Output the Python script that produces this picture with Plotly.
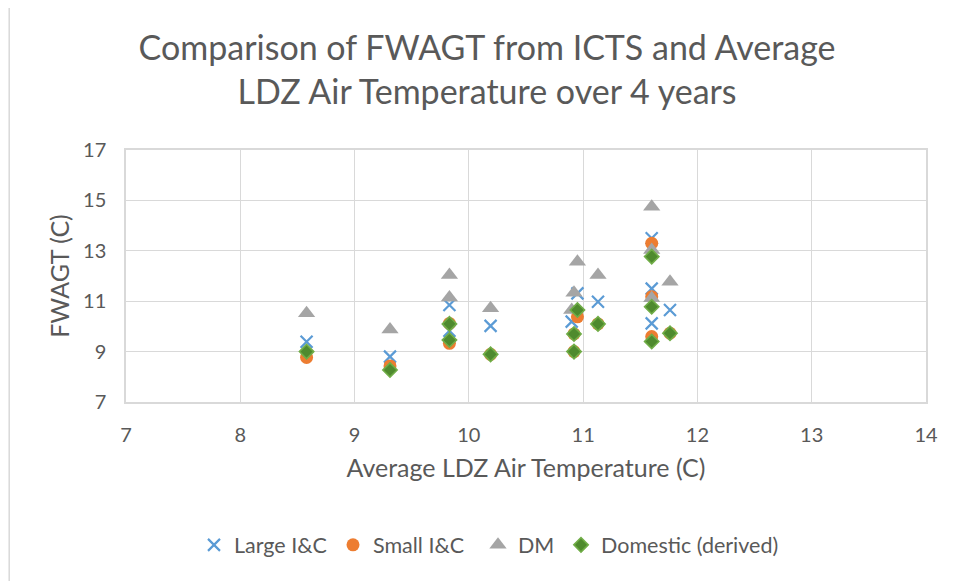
import plotly.graph_objects as go

# Data
large_x = [8.58, 9.31, 9.83, 9.83, 10.19, 10.90, 10.95, 11.13, 11.60, 11.60, 11.60, 11.76]
large_y = [9.39, 8.80, 10.85, 9.83, 10.02, 10.19, 11.31, 10.98, 13.50, 11.50, 10.12, 10.65]

small_x = [8.58, 9.31, 9.83, 9.83, 10.19, 10.92, 10.92, 10.95, 11.13, 11.60, 11.60, 11.60, 11.76]
small_y = [8.77, 8.43, 10.12, 9.33, 8.89, 9.00, 9.70, 10.38, 10.10, 13.30, 11.18, 9.60, 9.73]

dm_x = [8.58, 9.31, 9.83, 9.83, 10.19, 10.90, 10.92, 10.95, 11.13, 11.60, 11.60, 11.60, 11.76]
dm_y = [10.52, 9.88, 12.04, 11.15, 10.72, 10.65, 11.34, 12.57, 12.04, 14.75, 13.03, 11.12, 11.77]

dom_x = [8.58, 9.31, 9.83, 9.83, 10.19, 10.92, 10.92, 10.95, 11.13, 11.60, 11.60, 11.60, 11.76]
dom_y = [9.00, 8.27, 10.10, 9.46, 8.89, 9.00, 9.70, 10.65, 10.10, 12.77, 10.78, 9.40, 9.73]

x_ticks = [7, 8, 9, 10, 11, 12, 13, 14]
y_ticks = [7, 9, 11, 13, 15, 17]

FONT = "Lato"
GRAY = "#595959"
GRID = "#D9D9D9"

fig = go.Figure()
fig.add_trace(go.Scatter(
    x=large_x, y=large_y, mode="markers", name="Large I&C", legend="legend",
    marker=dict(symbol="x-thin", size=12, line=dict(color="#5B9BD5", width=2.2), color="#5B9BD5"),
))
fig.add_trace(go.Scatter(
    x=small_x, y=small_y, mode="markers", name="Small I&C", legend="legend2",
    marker=dict(symbol="circle", size=13, color="#ED7D31", line=dict(width=0)),
))
fig.add_trace(go.Scatter(
    x=dm_x, y=dm_y, mode="markers", name="DM", legend="legend3",
    marker=dict(symbol="triangle-up", size=15, color="#A5A5A5", line=dict(width=0)),
))
fig.add_trace(go.Scatter(
    x=dom_x, y=dom_y, mode="markers", name="Domestic (derived)", legend="legend4",
    marker=dict(symbol="diamond", size=11, color="#4F8A2E", line=dict(color="#70AD47", width=1.6)),
))


def legend_at(xpos):
    return dict(
        orientation="h", x=xpos, xanchor="left", y=-0.567, yanchor="middle",
        font=dict(family=FONT, size=21.5, color=GRAY),
        itemsizing="trace", bgcolor="rgba(0,0,0,0)",
    )


fig.update_layout(
    width=960, height=581,
    paper_bgcolor="white", plot_bgcolor="white",
    margin=dict(l=118, r=42, t=142, b=187),
    font=dict(family=FONT, color=GRAY),
    title=dict(
        text="Comparison of FWAGT from ICTS and Average<br>LDZ Air Temperature over 4 years",
        x=0.499, xanchor="center", y=0.91, yanchor="middle",
        font=dict(family=FONT, size=34, color=GRAY),
    ),
    showlegend=True,
    legend=legend_at(0.085),
    legend2=legend_at(0.25875),
    legend3=legend_at(0.44),
    legend4=legend_at(0.54375),
)

fig.update_xaxes(
    range=[7, 14], tickvals=x_ticks, ticktext=[str(v) for v in x_ticks],
    showgrid=True, gridcolor=GRID, gridwidth=1.3,
    showline=True, linecolor=GRID, linewidth=1.5, mirror=True,
    zeroline=False, ticks="", ticklabelstandoff=14,
    tickfont=dict(family=FONT, size=20, color=GRAY),
    title=dict(text="Average LDZ Air Temperature (C)", standoff=15,
               font=dict(family=FONT, size=25, color=GRAY)),
)
fig.update_yaxes(
    range=[7, 17], tickvals=y_ticks, ticktext=[str(v) for v in y_ticks],
    showgrid=True, gridcolor=GRID, gridwidth=1.3,
    showline=True, linecolor=GRID, linewidth=1.5, mirror=True,
    zeroline=False, ticks="", ticklabelstandoff=14,
    tickfont=dict(family=FONT, size=20, color=GRAY),
    title=dict(text="FWAGT (C)", standoff=6,
               font=dict(family=FONT, size=25, color=GRAY)),
)

# Faint outer chart border on the left edge
fig.add_shape(type="line", xref="paper", yref="paper",
              x0=-0.146, x1=-0.146, y0=-0.75, y1=1.6,
              line=dict(color="#D9D9D9", width=1.5))

fig.write_html("out.html")
